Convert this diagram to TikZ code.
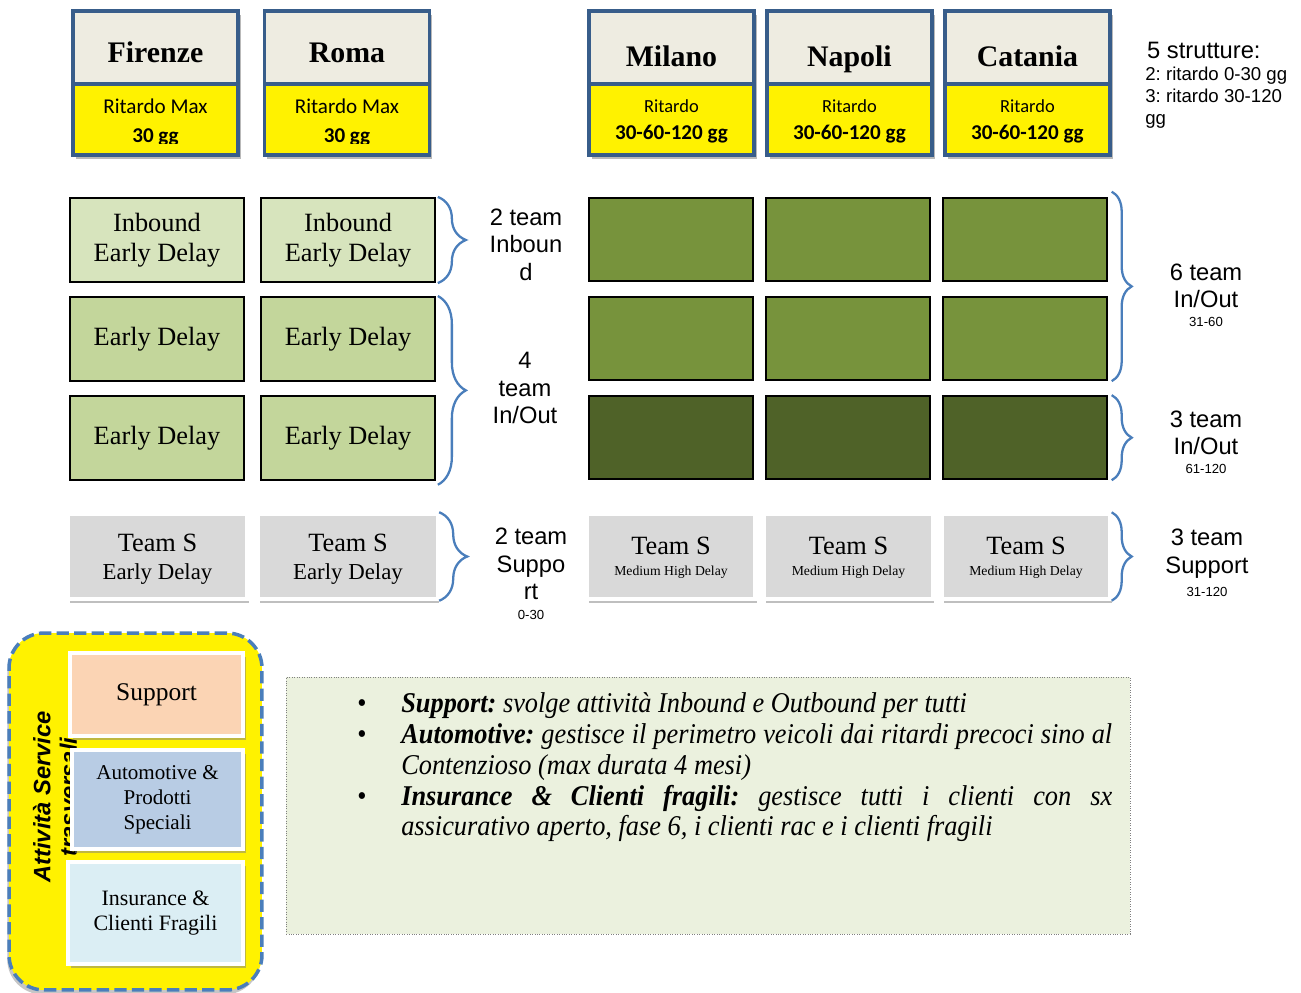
\documentclass[tikz,border=0pt]{standalone}
\usepackage{fontspec}
\setmainfont{Liberation Serif}
\newfontfamily\calibri{Carlito}
\newfontfamily\arial{Liberation Sans}
\newfontfamily\notefont[FakeStretch=0.92]{Liberation Serif}
\usetikzlibrary{positioning,shadows,decorations.pathreplacing}
\frenchspacing

\definecolor{frameblue}{HTML}{385D8A}
\definecolor{titlegray}{HTML}{EEECE1}
\definecolor{palegreen}{HTML}{D7E4BD}
\definecolor{lightgreen}{HTML}{C3D69B}
\definecolor{grnmid}{HTML}{77933C}
\definecolor{grndark}{HTML}{4F6228}
\definecolor{supgray}{HTML}{D9D9D9}
\definecolor{peach}{HTML}{FBD4B4}
\definecolor{autoblue}{HTML}{B8CCE4}
\definecolor{insblue}{HTML}{DBEEF4}
\definecolor{notegreen}{HTML}{EBF1DE}
\definecolor{bracecol}{HTML}{4A7EBB}

\newcommand{\bitem}[1]{\par\hangindent=25pt\hangafter=1\noindent\makebox[25pt][l]{\upshape\textbullet}#1}

\begin{document}
\begin{tikzpicture}[x=0.02cm, y=-0.02cm,
  city/.style={draw=frameblue, line width=2pt, fill=titlegray, minimum width=3.3cm,
               minimum height=1.46cm, font=\fontsize{17}{20}\selectfont\bfseries,
               text height=0.72cm, text depth=0.1cm,
               drop shadow={shadow xshift=1.5pt, shadow yshift=-2.5pt, opacity=0.55}},
  cityr/.style={city, text height=0.88cm},
  delay/.style={city, fill=yellow, minimum height=1.42cm, align=center,
                text height=, text depth=0pt,
                font=\calibri\fontsize{10.5}{15.5}\selectfont},
  dtxt/.style={align=center, font=\calibri\fontsize{12}{16}\selectfont},
  inb/.style={draw, line width=1.2pt, fill=palegreen, minimum width=3.48cm,
              minimum height=1.68cm, align=center, font=\fontsize{15}{17}\selectfont},
  early/.style={inb, fill=lightgreen},
  grn/.style={draw, line width=1.2pt, fill=grnmid, minimum width=3.28cm, minimum height=1.66cm},
  dgrn/.style={grn, fill=grndark},
  teams/.style={draw=white, line width=2pt, fill=supgray, minimum width=3.58cm,
                minimum height=1.7cm, align=center, font=\fontsize{15}{16}\selectfont,
                text depth=0pt,
                drop shadow={shadow xshift=1pt, shadow yshift=-2pt, opacity=0.5}},
  teamr/.style={teams, minimum width=3.36cm},
  brc/.style={draw=bracecol, line width=1.3pt, decorate, decoration={brace, amplitude=0.56cm}},
  brcr/.style={brc, decoration={brace, amplitude=0.4cm}},
  lbl/.style={align=center, font=\arial\fontsize{13.5}{15.6}\selectfont},
  sml/.style={font=\arial\fontsize{7.5}{9}\selectfont, inner sep=1pt},
  svc/.style={draw=bracecol, dashed, dash pattern=on 7pt off 3pt, line width=2pt, fill=yellow,
              rounded corners=0.7cm, minimum width=5.06cm, minimum height=7.14cm,
              drop shadow={shadow xshift=-1pt, shadow yshift=-2.5pt, opacity=0.45}},
  svbox/.style={draw=white, line width=2pt, align=center,
                drop shadow={shadow xshift=1.5pt, shadow yshift=-2pt, opacity=0.5}},
  notebox/.style={draw=gray, densely dotted, fill=notegreen, minimum width=16.88cm, minimum height=5.14cm}]
  \useasboundingbox (0,0) rectangle (1301,993);

  % city headers
  \node[city] (fi) at (155.5,47.5) {Firenze};
  \node[city, right=0.46cm of fi] (ro) {Roma};
  \node[cityr, right=3.12cm of ro] (mi) {Milano};
  \node[cityr, right=0.19cm of mi] (na) {Napoli};
  \node[cityr, right=0.19cm of na] (ca) {Catania};
  \node[delay, below=-2pt of fi] (fi-r) {};
  \node[delay, below=-2pt of ro] (ro-r) {};
  \begin{scope}
    \clip (fi-r.north west) rectangle ([yshift=0.26cm]ro-r.south east);
    \node[dtxt] (fi-t) at ([yshift=-0.06cm]fi-r.center) {Ritardo Max\\\textbf{30 gg}};
    \node[dtxt] (ro-t) at ([yshift=-0.06cm]ro-r.center) {Ritardo Max\\\textbf{30 gg}};
  \end{scope}
  \node[delay, below=-2pt of mi] (mi-r) {Ritardo\\{\fontsize{12}{15.5}\selectfont\bfseries 30-60-120 gg}};
  \node[delay, below=-2pt of na] (na-r) {Ritardo\\{\fontsize{12}{15.5}\selectfont\bfseries 30-60-120 gg}};
  \node[delay, below=-2pt of ca] (ca-r) {Ritardo\\{\fontsize{12}{15.5}\selectfont\bfseries 30-60-120 gg}};
  \node[lbl, anchor=west] (str) at (1141,50) {5 strutture:};
  \node[anchor=north west, align=left, inner sep=0pt, font=\arial\fontsize{10.6}{12.5}\selectfont]
    (str-l) at (1145,67) {2: ritardo 0-30 gg\\3: ritardo 30-120\\gg};

  % early delay teams
  \node[inb] (in1) at (157,240) {Inbound\\Early Delay};
  \node[inb, right=0.3cm of in1] (in2) {Inbound\\Early Delay};
  \node[early, below=0.26cm of in1] (ed1) {Early Delay};
  \node[early, below=0.26cm of in2] (ed2) {Early Delay};
  \node[early, below=0.26cm of ed1] (ed3) {Early Delay};
  \node[early, below=0.26cm of ed2] (ed4) {Early Delay};

  % medium / high delay teams
  \node[grn] (mi1) at (671,239.5) {};
  \node[grn, right=0.22cm of mi1] (na1) {};
  \node[grn, right=0.22cm of na1] (ca1) {};
  \node[grn, below=0.28cm of mi1] (mi2) {};
  \node[grn, below=0.28cm of na1] (na2) {};
  \node[grn, below=0.28cm of ca1] (ca2) {};
  \node[dgrn, below=0.28cm of mi2] (mi3) {};
  \node[dgrn, below=0.28cm of na2] (na3) {};
  \node[dgrn, below=0.28cm of ca2] (ca3) {};

  % support teams
  \node[teams] (ts1) at (157.5,556.5) {Team S\\{\fontsize{13}{16}\selectfont Early Delay}};
  \node[teams, right=0.16cm of ts1] (ts2) {Team S\\{\fontsize{13}{16}\selectfont Early Delay}};
  \node[teamr] (ts3) at (671,556.5) {Team S\\[-4pt]{\fontsize{7.8}{9}\selectfont Medium High Delay}};
  \node[teamr, right=0.12cm of ts3] (ts4) {Team S\\[-4pt]{\fontsize{7.8}{9}\selectfont Medium High Delay}};
  \node[teamr, right=0.12cm of ts4] (ts5) {Team S\\[-4pt]{\fontsize{7.8}{9}\selectfont Medium High Delay}};

  % braces and counts
  \draw[brc] ([xshift=1pt]in2.north east) -- ([xshift=1pt]in2.south east);
  \draw[brc] ([xshift=1pt]ed2.north east) -- ([shift={(1pt,-2pt)}]ed4.south east);
  \draw[brc] ([xshift=0pt]ts2.north east) -- ([xshift=0pt]ts2.south east);
  \draw[brcr] ([shift={(2pt,3pt)}]ca1.north east) -- ([xshift=2pt]ca2.south east);
  \draw[brcr] ([xshift=2pt]ca3.north east) -- ([xshift=2pt]ca3.south east);
  \draw[brcr] ([xshift=0pt]ts5.north east) -- ([xshift=0pt]ts5.south east);
  \node[lbl] (n-inb) at (526,244.5) {2 team\\Inboun\\d};
  \node[lbl] (n-io) at (525,388) {4\\team\\In/Out};
  \node[lbl] (n-sup) at (531,564) {2 team\\Suppo\\rt};
  \node[sml, below=0.05cm of n-sup] (n-sup-d) {0-30};
  \node[lbl] (r-io) at (1206,286) {6 team\\In/Out};
  \node[sml, below=0.02cm of r-io] (r-io-d) {31-60};
  \node[lbl] (r-io2) at (1206,433) {3 team\\In/Out};
  \node[sml, below=0.02cm of r-io2] (r-io2-d) {61-120};
  \node[lbl] (r-sup) at (1207,553.5) {3 team\\Support};
  \node[sml, below=0.02cm of r-sup] (r-sup-d) {31-120};

  % transversal services
  \node[svc] (svc) at (135.5,811.5) {};
  \node[rotate=90, align=center, font=\arial\bfseries\itshape\fontsize{13.5}{15}\selectfont]
    (svc-t) at (55,797) {Attività Service\\trasversali};
  \node[svbox, fill=peach, minimum width=3.46cm, minimum height=1.66cm,
        font=\fontsize{14.5}{17}\selectfont] (sv-sup) at (156.5,694.5) {Support};
  \node[svbox, fill=autoblue, minimum width=3.42cm, minimum height=1.98cm,
        font=\fontsize{12}{14.2}\selectfont] (sv-auto) at (157.5,799.5) {Automotive \&\\Prodotti\\Speciali};
  \node[svbox, fill=insblue, minimum width=3.5cm, minimum height=2.04cm,
        font=\fontsize{12.5}{14}\selectfont] (sv-ins) at (155.5,913) {Insurance \&\\Clienti Fragili};

  % notes
  \node[notebox] (nb) at (708,805.5) {};
  \node[anchor=north west, inner sep=0pt, text width=15.1cm, align=justify,
        font=\notefont\fontsize{16.3}{17.6}\selectfont\itshape] (nb-t) at (357,681) {%
    \bitem{\textbf{Support:} svolge attività Inbound e Outbound per tutti}
    \bitem{\textbf{Automotive:} gestisce il perimetro veicoli dai ritardi precoci sino al\linebreak Contenzioso (max durata 4 mesi)}
    \bitem{\textbf{Insurance \& Clienti fragili:} gestisce tutti i clienti con sx\linebreak assicurativo aperto, fase 6, i clienti rac e i clienti fragili}\par};
\end{tikzpicture}
\end{document}
